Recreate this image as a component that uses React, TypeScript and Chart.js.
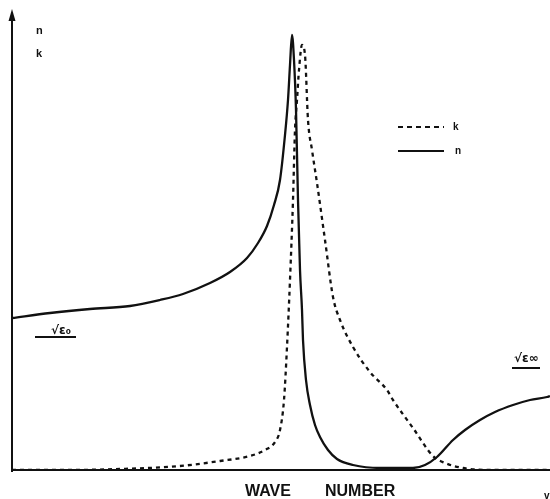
import React, { useEffect, useRef } from "react";
import { Chart, registerables } from "chart.js";

Chart.register(...registerables);

// Wave number (arbitrary units) and n / k values (arbitrary units)
const nWave = [0, 38, 78, 118, 148, 171, 198, 218, 235, 246, 255, 262, 268, 273, 276, 278, 280, 282, 284, 286, 288, 290, 291, 294, 298, 303, 308, 316, 325, 341, 368, 401, 413, 425, 441, 453, 468, 483, 501, 518, 535, 538];
const nValue = [152, 157, 161, 164, 170, 176, 187, 198, 212, 227, 244, 265, 290, 335, 370, 405, 435, 410, 360, 270, 200, 160, 130, 90, 65, 45, 33, 20, 11, 5, 2, 2, 5, 13, 30, 40, 50, 58, 65, 70, 73, 74];
const kWave = [0, 48, 108, 168, 208, 238, 253, 263, 268, 272, 275, 278, 281, 283, 285, 287, 290, 293, 296, 300, 305, 313, 321, 328, 341, 358, 375, 381, 401, 421, 433, 451, 485, 538];
const kValue = [0, 0, 1, 4, 9, 14, 20, 28, 40, 70, 123, 190, 270, 340, 370, 400, 425, 415, 350, 320, 287, 230, 173, 150, 123, 98, 80, 70, 42, 14, 7, 2, 0, 0];

const legendLabels = ["k", "n"];
const axisLabels = ["n", "k"];
const xTitle = ["WAVE", "NUMBER"];

const nPoints = nWave.map((x, i) => ({ x, y: nValue[i] }));
const kPoints = kWave.map((x, i) => ({ x, y: kValue[i] }));

const annotate = {
  id: "annotate",
  afterDraw(chart: any) {
    const ctx = chart.ctx;
    const a = chart.chartArea;
    ctx.save();
    ctx.strokeStyle = "#111";
    ctx.fillStyle = "#111";
    // y axis with arrow
    ctx.lineWidth = 2;
    ctx.beginPath();
    ctx.moveTo(a.left, a.bottom + 2);
    ctx.lineTo(a.left, a.top - 2);
    ctx.stroke();
    ctx.beginPath();
    ctx.moveTo(a.left, a.top - 6);
    ctx.lineTo(a.left - 3.5, a.top + 6);
    ctx.lineTo(a.left + 3.5, a.top + 6);
    ctx.closePath();
    ctx.fill();
    // x axis
    ctx.lineWidth = 2;
    ctx.beginPath();
    ctx.moveTo(a.left, a.bottom);
    ctx.lineTo(a.right, a.bottom);
    ctx.stroke();

    ctx.textBaseline = "alphabetic";
    ctx.font = "bold 11px 'Liberation Sans'";
    ctx.fillText(axisLabels[0], a.left + 24, a.top + 19);
    ctx.fillText(axisLabels[1], a.left + 24, a.top + 42);

    // legend
    ctx.lineWidth = 2;
    ctx.setLineDash([5, 4]);
    ctx.beginPath();
    ctx.moveTo(398, 127);
    ctx.lineTo(444, 127);
    ctx.stroke();
    ctx.setLineDash([]);
    ctx.beginPath();
    ctx.moveTo(398, 151);
    ctx.lineTo(444, 151);
    ctx.stroke();
    ctx.font = "bold 10px 'Liberation Sans'";
    ctx.fillText(legendLabels[0], 453, 130);
    ctx.fillText(legendLabels[1], 455, 154);

    // sqrt eps labels
    ctx.font = "bold 12px 'DejaVu Sans'";
    ctx.fillText("√ε₀", 51, 334);
    ctx.lineWidth = 2;
    ctx.beginPath();
    ctx.moveTo(35, 337);
    ctx.lineTo(76, 337);
    ctx.stroke();
    ctx.fillText("√ε∞", 514, 362);
    ctx.beginPath();
    ctx.moveTo(512, 368);
    ctx.lineTo(540, 368);
    ctx.stroke();

    // axis title
    ctx.font = "bold 16px 'Liberation Sans'";
    ctx.fillText(xTitle[0], 245, 496);
    ctx.fillText(xTitle[1], 325, 496);
    ctx.font = "bold 10px 'Liberation Sans'";
    ctx.fillText("v", 544, 499);
    ctx.restore();
  },
};

export default function App() {
  const ref = useRef<HTMLCanvasElement>(null);
  useEffect(() => {
    if (!ref.current) return;
    const chart = new Chart(ref.current, {
      type: "line",
      data: {
        datasets: [
          {
            label: "n",
            data: nPoints,
            borderColor: "#111",
            borderWidth: 2.3,
            pointRadius: 0,
            cubicInterpolationMode: "monotone",
            fill: false,
          },
          {
            label: "k",
            data: kPoints,
            borderColor: "#111",
            borderWidth: 2.3,
            borderDash: [4, 4],
            pointRadius: 0,
            cubicInterpolationMode: "monotone",
            fill: false,
          },
        ],
      },
      options: {
        animation: false,
        responsive: false,
        maintainAspectRatio: false,
        layout: { padding: { left: 12, top: 15, right: 0, bottom: 29 } },
        plugins: { legend: { display: false }, tooltip: { enabled: false } },
        scales: {
          x: { type: "linear", display: false, min: 0, max: 538 },
          y: { type: "linear", display: false, min: 0, max: 455 },
        },
      },
      plugins: [annotate],
    });
    return () => chart.destroy();
  }, []);
  return (
    <div style={{ position: "fixed", left: 0, top: 0, width: 550, height: 499, background: "#fff" }}>
      <canvas ref={ref} width={550} height={499} style={{ display: "block" }} />
    </div>
  );
}
